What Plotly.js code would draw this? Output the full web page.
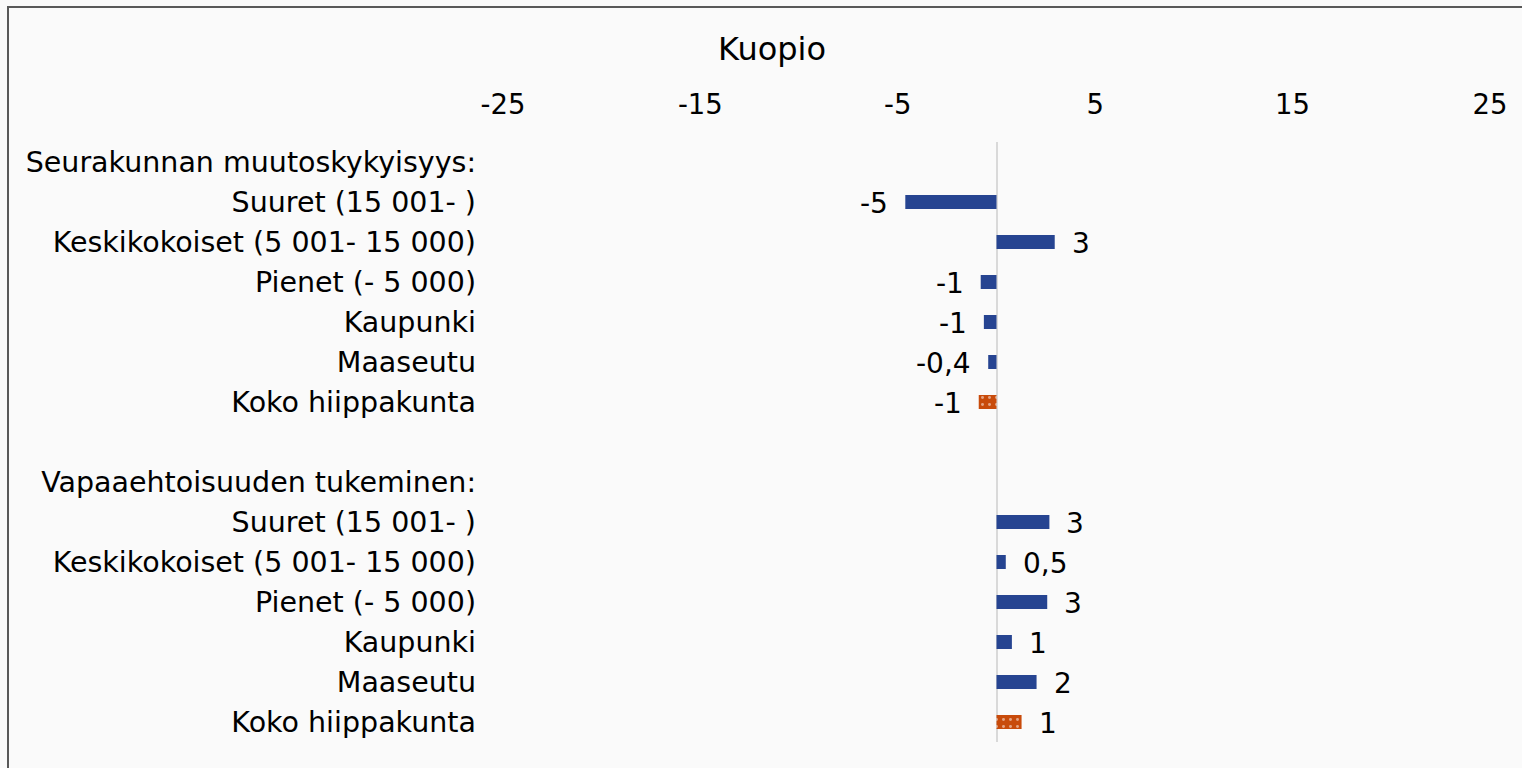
<!DOCTYPE html>
<html>
<head>
<meta charset="utf-8">
<script src="https://cdn.plot.ly/plotly-3.0.1.min.js"></script>
<style>
  html, body { margin: 0; padding: 0; background: #fafafa; overflow: hidden; }
  #wrap { position: relative; width: 1522px; height: 768px; }
  #chart { width: 1522px; height: 768px; }
  #frame {
    position: absolute; left: 7px; top: 6px; width: 1560px; height: 800px;
    border: 2px solid #595959; pointer-events: none; box-sizing: border-box;
  }
</style>
</head>
<body>
<div id="wrap">
  <div id="chart"></div>
  <div id="frame"></div>
</div>
<script>
// Row labels, top to bottom (group headers and a spacer row carry no value)
const labels = [
  "Seurakunnan muutoskykyisyys:",
  "Suuret (15 001- )",
  "Keskikokoiset (5 001- 15 000)",
  "Pienet (- 5 000)",
  "Kaupunki",
  "Maaseutu",
  "Koko hiippakunta",
  " ",
  "Vapaaehtoisuuden tukeminen:",
  "Suuret (15 001- )",
  "Keskikokoiset (5 001- 15 000)",
  "Pienet (- 5 000)",
  "Kaupunki",
  "Maaseutu",
  "Koko hiippakunta"
];

// Change values for Kuopio, one per row (null = no bar)
const values = [
  null, -4.62, 2.95, -0.8, -0.64, -0.42, -0.9,
  null,
  null, 2.68, 0.47, 2.57, 0.78, 2.03, 1.27
];

// Rows that show the whole diocese
const isTotal = labels.map(l => l === "Koko hiippakunta");

const xTicks = [-25, -15, -5, 5, 15, 25];

const FONT = "DejaVu Sans";

// Integer labels, one decimal when the value rounds to zero (Finnish comma)
function fmt(v) {
  const r = Math.round(v);
  if (r === 0) return (Math.round(v * 10) / 10).toFixed(1).replace(".", ",");
  return String(r);
}

const rowPos = labels.map((_, i) => i);

const blue = "#264491";
const orange = "#C84B0B";

const trace = {
  type: "bar",
  orientation: "h",
  y: rowPos,
  x: values,
  marker: {
    color: isTotal.map(t => t ? orange : blue),
    line: { width: 0 },
    pattern: {
      shape: isTotal.map(t => t ? "." : ""),
      fgcolor: "#ffffff",
      fillmode: "overlay",
      size: 7,
      solidity: 0.14
    }
  },
  hoverinfo: "skip"
};

// Value labels beside each bar end
const valueLabels = [];
values.forEach((v, i) => {
  if (v === null) return;
  valueLabels.push({
    x: v, y: i, xref: "x", yref: "y",
    text: fmt(v),
    showarrow: false,
    xanchor: v < 0 ? "right" : "left",
    yanchor: "middle",
    xshift: v < 0 ? -15 : 15,
    yshift: -1,
    font: { family: FONT, size: 28, color: "#000" }
  });
});

const layout = {
  width: 1522,
  height: 768,
  paper_bgcolor: "#fafafa",
  plot_bgcolor: "#fafafa",
  margin: { l: 503, r: 31.5, t: 142, b: 26 },
  showlegend: false,
  bargap: 0.65,
  font: { family: FONT, size: 28, color: "#000" },
  title: {
    text: "Kuopio",
    font: { family: FONT, size: 32, color: "#000" },
    xref: "container", x: 772 / 1522, xanchor: "center",
    yref: "container", y: 1 - 49 / 768, yanchor: "middle"
  },
  xaxis: {
    side: "top",
    range: [-25, 25],
    tickvals: xTicks,
    ticktext: xTicks.map(String),
    showgrid: false,
    showline: false,
    ticks: "",
    ticklabelstandoff: 22,
    zeroline: true,
    zerolinecolor: "#d9d9d9",
    zerolinewidth: 2,
    tickfont: { family: FONT, size: 27.5, color: "#000" }
  },
  yaxis: {
    range: [labels.length - 0.5, -0.5],
    tickvals: rowPos,
    ticktext: labels,
    showgrid: false,
    zeroline: false,
    showline: false,
    ticks: "",
    ticklabelstandoff: 26,
    tickfont: { family: FONT, size: 28.5, color: "#000" }
  },
  annotations: valueLabels
};

Plotly.newPlot("chart", [trace], layout, { staticPlot: true, displayModeBar: false });
</script>
</body>
</html>
